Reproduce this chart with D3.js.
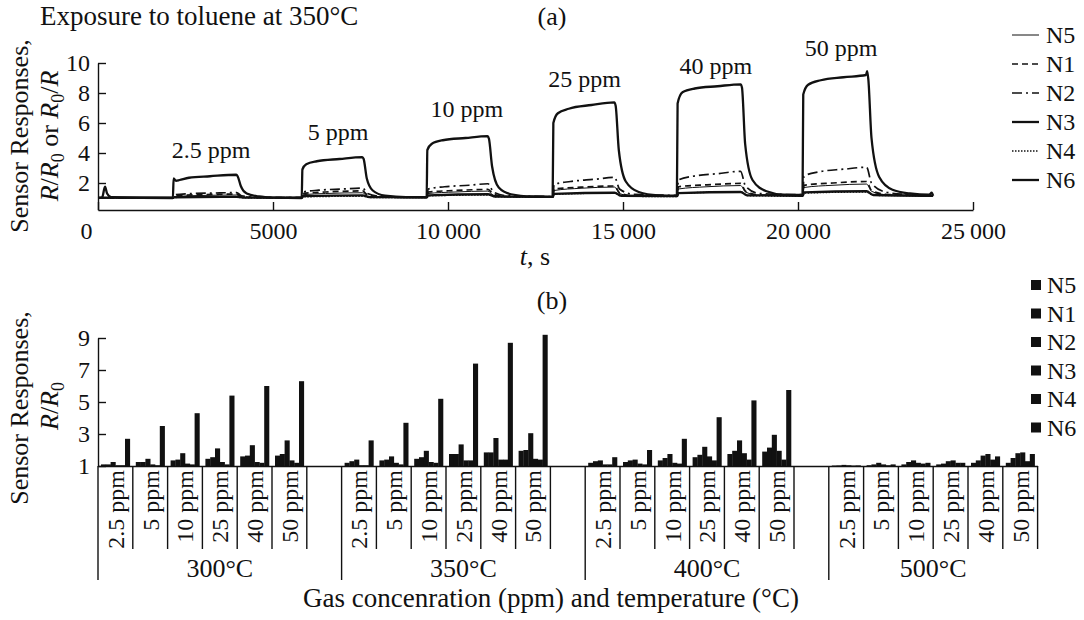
<!DOCTYPE html>
<html>
<head>
<meta charset="utf-8">
<script src="https://cdn.jsdelivr.net/npm/d3@7"></script>
<style>
  body { margin: 0; background: #fff; }
  text { font-family: "Liberation Serif", "Times New Roman", serif; fill: #111; }
</style>
</head>
<body>
<svg id="chart" width="1084" height="620"></svg>
<script>
// ---------- data ----------
const sensors = ["N5", "N1", "N2", "N3", "N4", "N6"];
const concLabels = ["2.5 ppm", "5 ppm", "10 ppm", "25 ppm", "40 ppm", "50 ppm"];
const tempLabels = ["300°C", "350°C", "400°C", "500°C"];
const timeTicks = [0, 5000, 10000, 15000, 20000, 25000];
const respTicksA = [2, 4, 6, 8, 10];
const respTicksB = [1, 3, 5, 7, 9];

// pulse annotation positions (time, response level)
const pulseLabelTime = [3230, 6860, 10540, 13900, 17650, 21230];
const pulseLabelLevel = [3.7, 4.9, 6.4, 8.4, 9.3, 10.5];

// transient responses at 350°C: [time s, response]
const respN6 = [[0,1.0],[120,1.05],[200,1.75],[260,1.3],[380,1.05],[2140,1.0],
  [2160,2.3],[2230,2.15],[2330,2.2],[2600,2.35],[3200,2.45],[3950,2.55],[3990,2.45],[4080,1.8],[4250,1.3],[4600,1.1],[5000,1.03],[5820,1.0],
  [5840,2.9],[5950,3.25],[6250,3.45],[6900,3.6],[7550,3.72],[7590,3.6],[7680,2.3],[7850,1.5],[8200,1.15],[8800,1.05],[9390,1.05],
  [9410,4.2],[9530,4.6],[9850,4.85],[10500,5.0],[11130,5.12],[11170,4.95],[11260,3.1],[11450,1.7],[11800,1.25],[12400,1.1],[12990,1.08],
  [13010,6.0],[13140,6.65],[13450,6.95],[14100,7.2],[14750,7.38],[14790,7.15],[14880,4.2],[15080,2.1],[15450,1.4],[16000,1.18],[16540,1.15],
  [16560,7.3],[16700,8.05],[17050,8.3],[17700,8.45],[18360,8.58],[18400,8.35],[18490,4.6],[18700,2.2],[19100,1.45],[19600,1.22],[20130,1.2],
  [20150,7.9],[20290,8.55],[20650,8.85],[21300,9.05],[21940,9.2],[21975,9.45],[22010,8.9],[22100,5.0],[22320,2.4],[22700,1.55],[23200,1.3],[23750,1.22],[23820,1.35],[23860,1.15]];
const respN2 = [[0,1.0],[2150,1.0],[2180,1.2],[2500,1.28],[3300,1.33],[3960,1.36],[4100,1.15],[4500,1.05],[5830,1.02],
  [5860,1.4],[6300,1.52],[7000,1.6],[7560,1.66],[7700,1.3],[8100,1.1],[9400,1.05],
  [9430,1.6],[9900,1.75],[10600,1.85],[11140,1.95],[11300,1.4],[11700,1.15],[13000,1.1],
  [13030,1.9],[13500,2.1],[14200,2.25],[14760,2.38],[14900,1.6],[15300,1.25],[16550,1.18],
  [16580,2.2],[17000,2.45],[17700,2.62],[18360,2.78],[18500,1.8],[18900,1.3],[20140,1.22],
  [20170,2.45],[20600,2.75],[21300,2.92],[21960,3.05],[22100,2.0],[22500,1.4],[23000,1.25],[23860,1.2]];
const respN1 = [[0,1.0],[2150,1.0],[2180,1.15],[3000,1.22],[3960,1.26],[4100,1.1],[4500,1.03],[5830,1.02],
  [5860,1.3],[6500,1.4],[7560,1.47],[7700,1.2],[8100,1.07],[9400,1.05],
  [9430,1.4],[10200,1.5],[11140,1.57],[11300,1.25],[11700,1.1],[13000,1.08],
  [13030,1.6],[13800,1.72],[14760,1.8],[14900,1.35],[15300,1.15],[16550,1.12],
  [16580,1.75],[17400,1.88],[18360,1.97],[18500,1.45],[18900,1.2],[20140,1.18],
  [20170,1.85],[21000,2.0],[21960,2.1],[22100,1.5],[22500,1.25],[23000,1.2],[23860,1.18]];
const respN5 = [[0,1.0],[2150,1.0],[2180,1.1],[3000,1.17],[3960,1.2],[4100,1.06],[4500,1.02],[5830,1.0],
  [5860,1.22],[6500,1.3],[7560,1.35],[7700,1.12],[8100,1.04],[9400,1.03],
  [9430,1.3],[10200,1.4],[11140,1.46],[11300,1.18],[11700,1.07],[13000,1.06],
  [13030,1.5],[13800,1.65],[14760,1.73],[14900,1.3],[15300,1.12],[16550,1.1],
  [16580,1.6],[17400,1.75],[18360,1.83],[18500,1.4],[18900,1.18],[20140,1.15],
  [20170,1.7],[21000,1.85],[21960,1.93],[22100,1.45],[22500,1.22],[23000,1.17],[23860,1.15]];
const respN3 = [[0,1.02],[2150,1.02],[2180,1.05],[3960,1.08],[4150,1.03],[5830,1.02],
  [5860,1.12],[7560,1.18],[7750,1.06],[9400,1.05],
  [9430,1.18],[11140,1.25],[11350,1.1],[13000,1.08],
  [13030,1.28],[14760,1.35],[14950,1.15],[16550,1.12],
  [16580,1.32],[18360,1.4],[18550,1.18],[20140,1.15],
  [20170,1.38],[21960,1.45],[22150,1.2],[23860,1.15]];
const respN4 = [[0,1.0],[2150,1.0],[2180,1.04],[3960,1.06],[4150,1.02],[5830,1.0],
  [5860,1.08],[7560,1.12],[7750,1.04],[9400,1.03],
  [9430,1.15],[11140,1.2],[11350,1.08],[13000,1.07],
  [13030,1.25],[14760,1.33],[14950,1.12],[16550,1.1],
  [16580,1.32],[18360,1.4],[18550,1.16],[20140,1.13],
  [20170,1.33],[21960,1.4],[22150,1.18],[23860,1.15]];

// steady-state responses R/R0, rows = concentration, columns = N5,N1,N2,N3,N4,N6
const bars300 = [
  [1.1, 1.1, 1.25, 1.05, 1.05, 2.7],
  [1.25, 1.25, 1.45, 1.1, 1.05, 3.5],
  [1.35, 1.4, 1.8, 1.15, 1.1, 4.3],
  [1.45, 1.55, 2.1, 1.25, 1.1, 5.4],
  [1.6, 1.65, 2.3, 1.25, 1.2, 6.0],
  [1.65, 1.75, 2.6, 1.35, 1.2, 6.3]];
const bars350 = [
  [1.2, 1.3, 1.4, 1.05, 1.05, 2.6],
  [1.35, 1.4, 1.6, 1.2, 1.1, 3.7],
  [1.45, 1.55, 1.95, 1.25, 1.2, 5.2],
  [1.75, 1.75, 2.35, 1.35, 1.35, 7.4],
  [1.85, 1.85, 2.75, 1.4, 1.4, 8.7],
  [1.95, 2.0, 3.05, 1.45, 1.4, 9.2]];
const bars400 = [
  [1.2, 1.3, 1.35, 1.1, 1.1, 1.55],
  [1.25, 1.35, 1.4, 1.15, 1.1, 2.0],
  [1.35, 1.5, 1.75, 1.2, 1.15, 2.7],
  [1.55, 1.7, 2.2, 1.6, 1.35, 4.05],
  [1.75, 1.95, 2.6, 1.8, 1.4, 5.1],
  [1.9, 2.15, 2.95, 1.95, 1.4, 5.75]];
const bars500 = [
  [1.03, 1.04, 1.07, 1.05, 1.03, 1.04],
  [1.05, 1.1, 1.2, 1.1, 1.05, 1.1],
  [1.1, 1.25, 1.35, 1.2, 1.15, 1.2],
  [1.1, 1.15, 1.3, 1.35, 1.2, 1.2],
  [1.2, 1.35, 1.65, 1.75, 1.4, 1.6],
  [1.2, 1.5, 1.8, 1.85, 1.3, 1.75]];

// ---------- setup ----------
const svg = d3.select("#chart");
const INK = "#111";
const FS = 24;

const lineStyles = {
  N5: { w: 1.0, dash: null },
  N1: { w: 1.7, dash: "6,4" },
  N2: { w: 1.7, dash: "10,4,2,4" },
  N3: { w: 2.3, dash: null },
  N4: { w: 1.5, dash: "1.5,1.5" },
  N6: { w: 2.3, dash: null }
};
const responses = { N5: respN5, N1: respN1, N2: respN2, N3: respN3, N4: respN4, N6: respN6 };

function styleAxis(g) {
  g.selectAll("path, line").attr("stroke", INK).attr("stroke-width", 1.4);
  g.selectAll("text").attr("font-size", FS).attr("fill", INK)
    .attr("font-family", '"Liberation Serif", serif');
}

// writes a resistance-ratio label: "R" italic, "0" as subscript, other parts plain
function ratioLabel(t, parts) {
  let shiftBack = 0;
  parts.forEach(p => {
    let span;
    if (p === "0") {
      span = t.append("tspan").attr("font-size", 18).attr("dy", 6 + shiftBack).text("0");
      shiftBack = -6;
      return;
    }
    span = t.append("tspan").text(p);
    if (p === "R") span.attr("font-style", "italic");
    if (shiftBack) span.attr("dy", shiftBack);
    shiftBack = 0;
  });
}

// ---------- panel (a): transients ----------
const xT = d3.scaleLinear().domain([0, 25000]).range([98, 973]);
const yT = d3.scaleLinear().domain([0.2, 10]).range([210, 63]);

const fmtTime = d => d >= 10000 ? String(Math.floor(d / 1000)) + "\u2009" + "000" : String(d);

svg.append("g")
  .attr("transform", `translate(0,${yT(0.2)})`)
  .call(d3.axisBottom(xT).tickValues(timeTicks).tickSizeInner(-8).tickSizeOuter(0)
    .tickPadding(12).tickFormat(fmtTime))
  .call(styleAxis)
  .call(g => g.selectAll(".tick text").filter(d => d === 0).attr("dx", -12));

svg.append("g")
  .attr("transform", `translate(${xT(0)},0)`)
  .call(d3.axisLeft(yT).tickValues(respTicksA).tickSizeInner(-8).tickSizeOuter(0).tickPadding(8))
  .call(styleAxis);

const line = d3.line().x(d => xT(d[0])).y(d => yT(d[1])).curve(d3.curveMonotoneX);
const drawOrder = ["N4", "N5", "N3", "N1", "N2", "N6"];
svg.append("g").selectAll("path")
  .data(drawOrder)
  .join("path")
  .attr("d", k => line(responses[k]))
  .attr("fill", "none")
  .attr("stroke", INK)
  .attr("stroke-width", k => lineStyles[k].w)
  .attr("stroke-dasharray", k => lineStyles[k].dash)
  .attr("stroke-linejoin", "round");

svg.append("g").selectAll("text")
  .data(concLabels)
  .join("text")
  .attr("x", (d, i) => xT(pulseLabelTime[i]))
  .attr("y", (d, i) => yT(pulseLabelLevel[i]))
  .attr("text-anchor", "middle")
  .attr("font-size", FS)
  .text(d => d);

// x-axis title: t, s
svg.append("text")
  .attr("x", 535).attr("y", 265).attr("text-anchor", "middle").attr("font-size", 26)
  .call(t => {
    t.append("tspan").attr("font-style", "italic").text("t");
    t.append("tspan").text(", s");
  });

// panel (a) title and tag
svg.append("text").attr("x", 40).attr("y", 25).attr("font-size", 27)
  .text("Exposure to toluene at 350°C");
svg.append("text").attr("x", 552).attr("y", 25).attr("text-anchor", "middle").attr("font-size", 26)
  .text("(a)");

// y title (a)
const yTitleA = svg.append("g").attr("transform", "translate(28,136) rotate(-90)");
yTitleA.append("text").attr("text-anchor", "middle").attr("font-size", 26)
  .text("Sensor Responses,");
yTitleA.append("text").attr("text-anchor", "middle").attr("font-size", 26).attr("y", 30)
  .call(t => ratioLabel(t, ["R", "/", "R", "0", " or ", "R", "0", "/", "R"]));

// legend (a)
const legA = svg.append("g").selectAll("g").data(sensors).join("g")
  .attr("transform", (d, i) => `translate(1012,${35 + i * 29})`);
legA.append("line").attr("x1", 0).attr("x2", 27).attr("y1", 0).attr("y2", 0)
  .attr("stroke", INK)
  .attr("stroke-width", d => lineStyles[d].w)
  .attr("stroke-dasharray", d => lineStyles[d].dash);
legA.append("text").attr("x", 34).attr("dy", "0.35em").attr("font-size", FS).text(d => d);

// ---------- panel (b): bars ----------
const yB = d3.scaleLinear().domain([1, 9]).range([466, 338]);

// cells: six concentrations per temperature with an empty cell between temperatures
const slots = [];
tempLabels.forEach((t, gi) => {
  concLabels.forEach(c => slots.push(t + "|" + c));
  if (gi < tempLabels.length - 1) slots.push(t + "|gap");
});
const cellW = 34.8;
const xB = d3.scaleBand().domain(slots).range([98, 98 + slots.length * cellW]).padding(0);
const xS = d3.scaleBand().domain(sensors).range([3, xB.bandwidth() - 3]).padding(0);

const barTables = [bars300, bars350, bars400, bars500];
const barData = [];
tempLabels.forEach((t, gi) => {
  concLabels.forEach((c, ci) => {
    sensors.forEach((s, si) => {
      barData.push({ slot: t + "|" + c, sensor: s, value: barTables[gi][ci][si] });
    });
  });
});

svg.append("g").selectAll("rect")
  .data(barData)
  .join("rect")
  .attr("x", d => xB(d.slot) + xS(d.sensor))
  .attr("width", xS.bandwidth() + 0.3)
  .attr("y", d => yB(d.value))
  .attr("height", d => yB(1) - yB(d.value))
  .attr("fill", INK);

svg.append("g")
  .attr("transform", `translate(${xB.range()[0]},0)`)
  .call(d3.axisLeft(yB).tickValues(respTicksB).tickSizeInner(-8).tickSizeOuter(0).tickPadding(8))
  .call(styleAxis);

// baseline of the category axis
svg.append("g")
  .attr("transform", `translate(0,${yB(1)})`)
  .call(d3.axisBottom(xB).tickValues([]).tickSizeOuter(0))
  .call(styleAxis);

const sepShortEnd = 549;
const sepLongEnd = 580;
const cellSlots = slots.filter(s => !s.endsWith("|gap"));

// cell separators (right edge of every concentration cell)
svg.append("g").selectAll("line")
  .data(cellSlots)
  .join("line")
  .attr("x1", d => xB(d) + xB.bandwidth()).attr("x2", d => xB(d) + xB.bandwidth())
  .attr("y1", yB(1)).attr("y2", sepShortEnd)
  .attr("stroke", INK).attr("stroke-width", 1.4);

// temperature group separators
svg.append("g").selectAll("line")
  .data(tempLabels)
  .join("line")
  .attr("x1", d => xB(d + "|2.5 ppm")).attr("x2", d => xB(d + "|2.5 ppm"))
  .attr("y1", yB(1)).attr("y2", sepLongEnd)
  .attr("stroke", INK).attr("stroke-width", 1.4);

// concentration labels (rotated)
svg.append("g").selectAll("text")
  .data(cellSlots)
  .join("text")
  .attr("transform", d => `translate(${xB(d) + xB.bandwidth() / 2},${yB(1) + 4}) rotate(-90)`)
  .attr("text-anchor", "end")
  .attr("dy", "0.35em")
  .attr("font-size", FS)
  .text(d => d.split("|")[1]);

// temperature labels
svg.append("g").selectAll("text")
  .data(tempLabels)
  .join("text")
  .attr("x", (d, i) => {
    const start = xB(d + "|2.5 ppm");
    const end = i < tempLabels.length - 1 ? xB(tempLabels[i + 1] + "|2.5 ppm") : xB(d + "|50 ppm") + xB.bandwidth();
    return (start + end) / 2;
  })
  .attr("y", 577)
  .attr("text-anchor", "middle")
  .attr("font-size", 26)
  .text(d => d);

svg.append("text").attr("x", 551).attr("y", 607).attr("text-anchor", "middle").attr("font-size", 27)
  .text("Gas concenration (ppm) and temperature (°C)");

svg.append("text").attr("x", 552).attr("y", 309).attr("text-anchor", "middle").attr("font-size", 26)
  .text("(b)");

// y title (b)
const yTitleB = svg.append("g").attr("transform", "translate(28,408) rotate(-90)");
yTitleB.append("text").attr("text-anchor", "middle").attr("font-size", 26)
  .text("Sensor Responses,");
yTitleB.append("text").attr("text-anchor", "middle").attr("font-size", 26).attr("y", 30).attr("x", 2)
  .call(t => ratioLabel(t, ["R", "/", "R", "0"]));

// legend (b)
const legB = svg.append("g").selectAll("g").data(sensors).join("g")
  .attr("transform", (d, i) => `translate(1031,${285 + i * 28.5})`);
legB.append("rect").attr("x", 0).attr("y", -5).attr("width", 10).attr("height", 10).attr("fill", INK);
legB.append("text").attr("x", 16).attr("dy", "0.35em").attr("font-size", FS).text(d => d);
</script>
</body>
</html>
